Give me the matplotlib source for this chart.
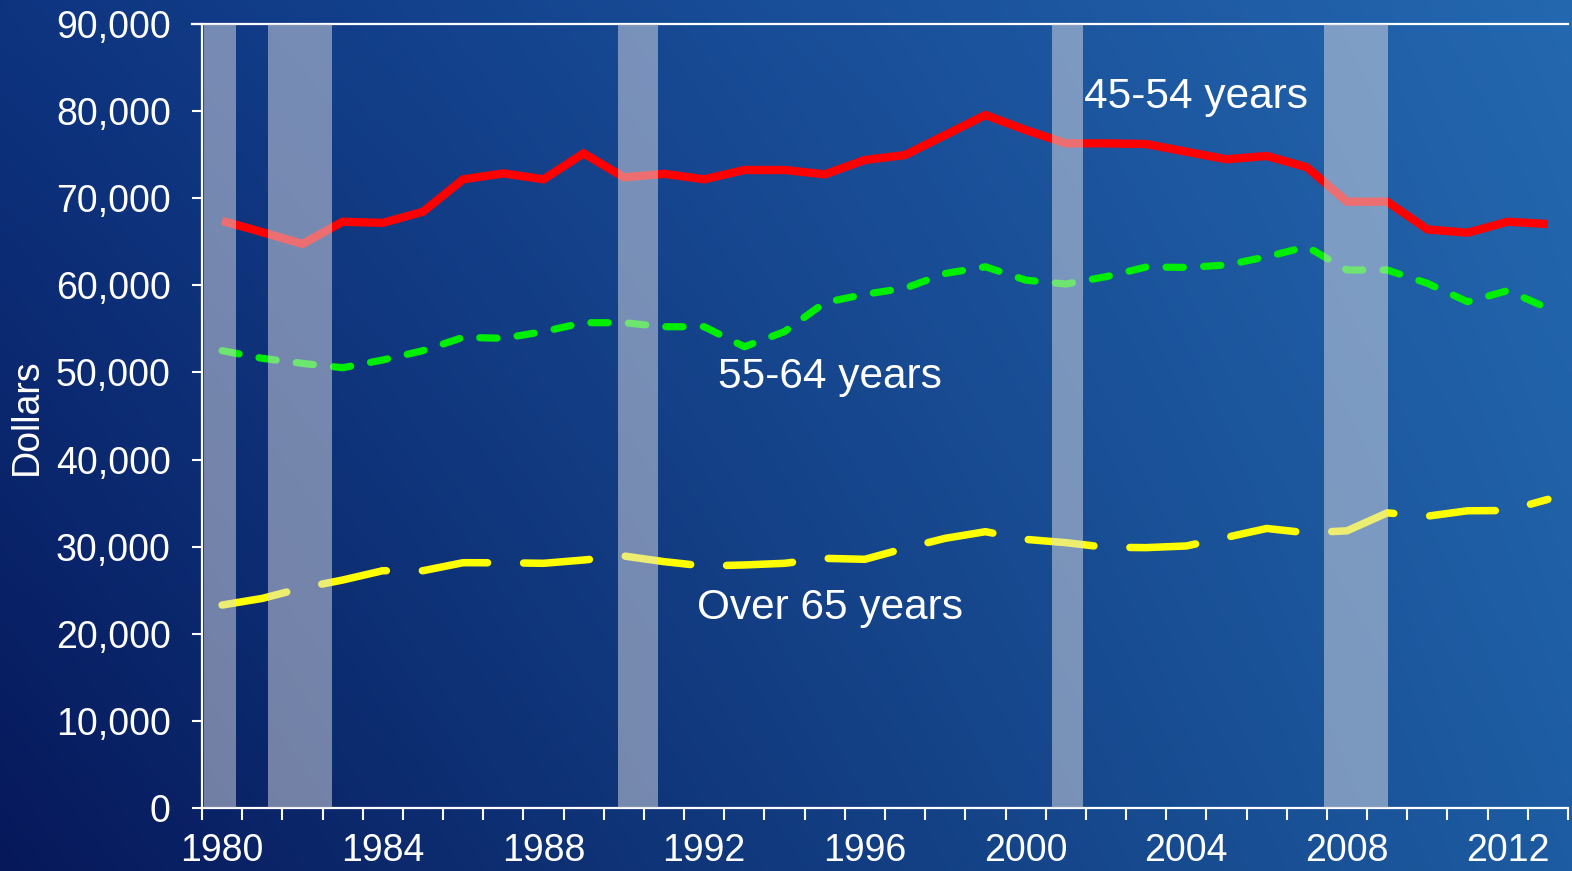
import matplotlib
matplotlib.use("Agg")
import matplotlib.pyplot as plt
import matplotlib.ticker as mticker
import numpy as np

plt.rcParams['font.family'] = ['Liberation Sans', 'DejaVu Sans']

years = list(range(1980, 2014))

# median household income by age of householder, dollars
age_45_54 = [67400, 66100, 64750, 67300, 67170, 68450, 72170, 72850, 72170, 75150,
             72400, 72800, 72170, 73240, 73240, 72740, 74390, 74960, 77260, 79550,
             77830, 76300, 76300, 76220, 75340, 74470, 74850, 73550, 69600, 69600,
             66420, 66040, 67300, 67040]
age_55_64 = [52500, 51620, 51040, 50540, 51430, 52500, 54030, 53920, 54690, 55710,
             55710, 55250, 55250, 52950, 54690, 58020, 58980, 59670, 61360, 62130,
             60600, 60150, 60990, 62100, 62060, 62330, 63280, 64430, 61760, 61760,
             60230, 58120, 59390, 57370]
age_65_up = [23300, 24060, 25260, 26170, 27240, 27240, 28160, 28150, 28090, 28470,
             28930, 28280, 27780, 27900, 28090, 28660, 28550, 29810, 30960, 31720,
             30840, 30460, 29930, 29890, 30080, 31070, 32090, 31590, 31820, 33880,
             33500, 34120, 34150, 35430]

# recession periods (start, end) on the year axis
recessions = [(1979.55, 1980.35), (1981.14, 1982.74), (1989.85, 1990.85),
              (2000.65, 2001.42), (2007.42, 2009.01)]

fig = plt.figure(figsize=(15.72, 8.71), dpi=100)

# diagonal blue backdrop
bg = fig.add_axes([0, 0, 1, 1])
corners = np.array([[[0x0E, 0x34, 0x80], [0x24, 0x68, 0xB0]],
                    [[0x06, 0x18, 0x5A], [0x1D, 0x5C, 0xA2]]]) / 255.0
u = np.linspace(0, 1, 300)[None, :, None]
v = np.linspace(0, 1, 200)[:, None, None]
top = corners[0, 0] * (1 - u) + corners[0, 1] * u
bot = corners[1, 0] * (1 - u) + corners[1, 1] * u
grad = top * (1 - v) + bot * v
bg.imshow(grad, aspect='auto', extent=[0, 1, 0, 1], interpolation='bilinear')
bg.set_axis_off()

ax = fig.add_axes([202 / 1572, 63 / 871, 1366 / 1572, 784 / 871])
ax.set_facecolor('none')

ax.plot(years, age_45_54, color='#FF0000', lw=6, solid_joinstyle='miter',
        solid_capstyle='butt', zorder=2)
ax.plot(years, age_55_64, color='#00EE00', lw=5.2, linestyle=(0, (2.4, 2.8)),
        dash_capstyle='round', zorder=2)
ax.plot(years, age_65_up, color='#FFFF00', lw=5.4, linestyle=(0, (8.8, 4.8)),
        dash_capstyle='round', zorder=2)

for start, end in recessions:
    ax.axvspan(start, end, color='#DCDCE3', alpha=0.5, lw=0, zorder=3)

ax.text(2001.45, 80360, '45-54 years', color='white', fontsize=30.5, va='baseline')
ax.text(1992.34, 48215, '55-64 years', color='white', fontsize=30.5, va='baseline')
ax.text(1991.82, 21700, 'Over 65 years', color='white', fontsize=30.5, va='baseline')

ax.set_xlim(1979.5, 2013.5)
ax.set_ylim(0, 90000)

ax.set_xticks(range(1980, 2013, 4))
ax.set_xticks(np.arange(1979.5, 2014, 1), minor=True)
ax.tick_params(axis='x', which='major', length=0, pad=18, labelsize=27,
               labelcolor='white')
ax.tick_params(axis='x', which='minor', length=8.5, width=1.5, color='white',
               direction='out')
ax.set_yticks(range(0, 90001, 10000))
ax.yaxis.set_major_formatter(mticker.StrMethodFormatter('{x:,.0f}'))
ax.tick_params(axis='y', length=7.5, width=1.5, color='white', pad=15,
               labelsize=27, labelcolor='white')

for side in ('left', 'bottom', 'top'):
    ax.spines[side].set_color('white')
    ax.spines[side].set_linewidth(1.6)
ax.spines['right'].set_visible(False)
ax.spines['top'].set_bounds(1979.25, 2013.5)

fig.text(27 / 1572, 1 - 417 / 871, 'Dollars', color='white', fontsize=27,
         rotation=90, ha='center', va='center')

fig.savefig('out.png', dpi=100)
